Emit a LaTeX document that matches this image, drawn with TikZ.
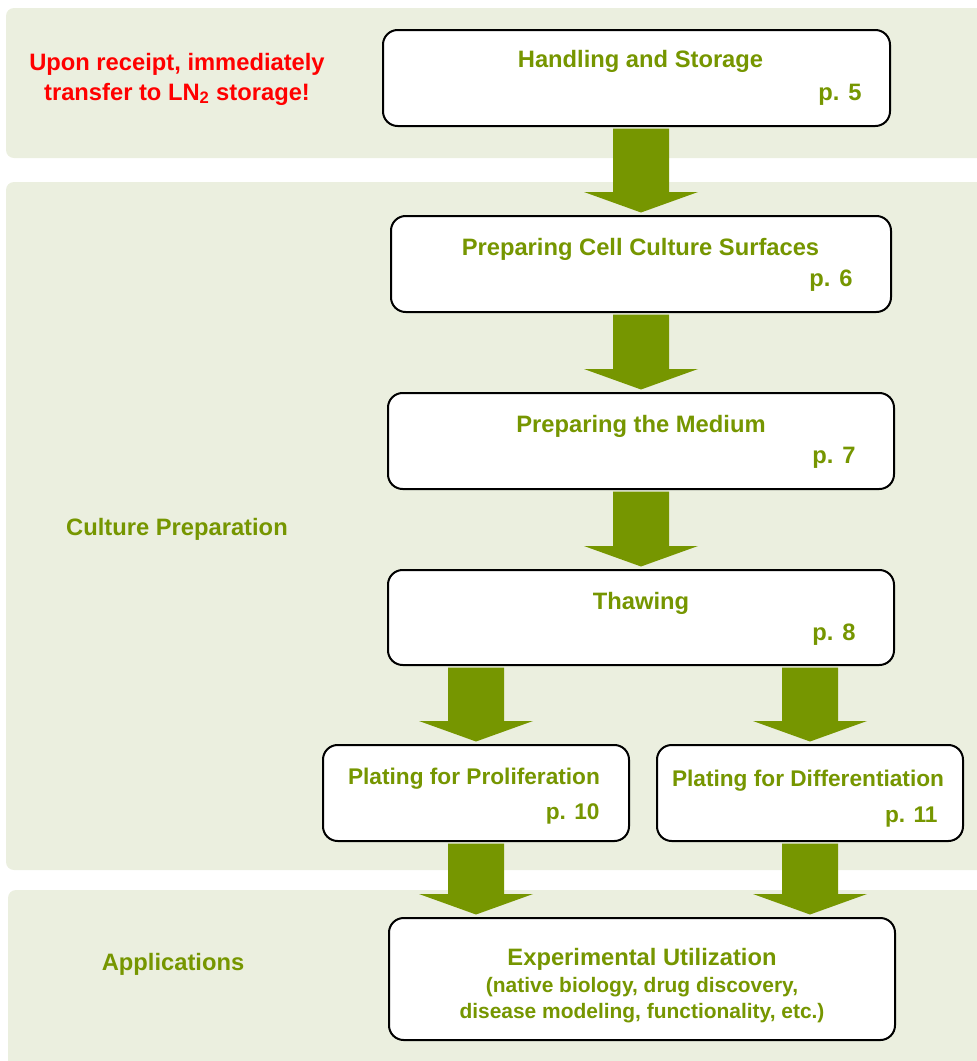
\documentclass[tikz,border=0pt]{standalone}
\usepackage{fontspec}
\setmainfont{Liberation Sans}
\usetikzlibrary{calc}

\definecolor{stepgreen}{RGB}{118,150,0}
\definecolor{bandgreen}{RGB}{235,239,223}
\definecolor{warnred}{RGB}{255,0,0}

\newcommand\stepfont{\fontsize{17.8}{22.5}\selectfont\bfseries}
\newcommand\platefont{\fontsize{17}{21}\selectfont\bfseries}
\newcommand\smallstepfont{\fontsize{15.7}{19.5}\selectfont\bfseries}

\tikzset{every picture/.style={line width=0.75pt}}
\tikzset{
  band/.style={fill=bandgreen, rounded corners=6pt},
  stepbox/.style={draw=black, line width=1.5pt, fill=white, rounded corners=11pt, inner sep=0pt},
  steptitle/.style={font=\stepfont, text=stepgreen, inner sep=0pt, anchor=base},
  steppage/.style={font=\stepfont, text=stepgreen, inner sep=0pt, anchor=base east},
  sidelabel/.style={font=\stepfont, text=stepgreen, inner sep=0pt, anchor=base},
  flow/.style={fill=stepgreen, to path={
      ($(\tikztostart)+(-28,1.5)$) -- ($(\tikztotarget)+(-28,-23)$) -- ++(-29,0)
      -- ($(\tikztotarget)+(0,-2.5)$) -- ($(\tikztotarget)+(57,-23)$) -- ++(-29,0)
      -- ($(\tikztostart)+(28,1.5)$) -- cycle}}
}

\begin{document}
\begin{tikzpicture}[x=0.75pt,y=0.75pt,yscale=-1,xscale=1]
\useasboundingbox (0,0) rectangle (977,1061);

%Shape: Bands
\begin{scope}
\clip (0,0) rectangle (977,1061);
\fill [band] (6,8) rectangle (990,158);
\fill [band] (6,182) rectangle (990,870);
\fill [band] (8,890) rectangle (990,1075);
\end{scope}

%Shape: Rounded Rect [steps]
\node [stepbox, minimum width=380.25pt, minimum height=72pt] (handling) at (636.5,78) {};
\node [stepbox, minimum width=375pt, minimum height=72pt] (surfaces) at (641,264) {};
\node [stepbox, minimum width=379.5pt, minimum height=72pt] (medium) at (641,441) {};
\node [stepbox, minimum width=379.5pt, minimum height=71.25pt] (thawing) at (641,617.5) {};
\node [stepbox, minimum width=229.5pt, minimum height=72pt] (prolif) at (476,793) {};
\node [stepbox, minimum width=229.5pt, minimum height=72pt] (diff) at (810,793) {};
\node [stepbox, minimum width=379.5pt, minimum height=91.5pt] (utilization) at (642,979) {};

%Block Arrows
\fill [flow] (handling.south -| surfaces.north) to (surfaces.north);
\fill [flow] (surfaces.south) to (medium.north);
\fill [flow] (medium.south) to (thawing.north);
\fill [flow] (thawing.south -| prolif.north) to (prolif.north);
\fill [flow] (thawing.south -| diff.north) to (diff.north);
\fill [flow] (prolif.south) to (prolif.south |- utilization.north);
\fill [flow] (diff.south) to (diff.south |- utilization.north);

% Text Node
\node [font=\stepfont, text=warnred, align=center, inner sep=0pt] (receipt) at (177,79)
  {Upon receipt, immediately\\transfer to LN\textsubscript{2} storage!};
% Text Node
\node [sidelabel] (culture) at (177,535) {Culture Preparation};
% Text Node
\node [sidelabel] (apps) at (173,970) {Applications};

% Text Node
\node [steptitle] (handling-t) at (640.5,67) {Handling and Storage};
\node [steppage] (handling-p) at (862,100) {p. 5};
% Text Node
\node [steptitle] (surfaces-t) at (640.5,255) {Preparing Cell Culture Surfaces};
\node [steppage] (surfaces-p) at (853,286) {p. 6};
% Text Node
\node [steptitle] (medium-t) at (641,432) {Preparing the Medium};
\node [steppage] (medium-p) at (856,463) {p. 7};
% Text Node
\node [steptitle] (thawing-t) at (641,609) {Thawing};
\node [steppage] (thawing-p) at (856,640) {p. 8};
% Text Node
\node [steptitle, font=\platefont] (prolif-t) at (474,784) {Plating for Proliferation};
\node [steppage, font=\platefont] (prolif-p) at (600,819) {p. 10};
% Text Node
\node [steptitle, font=\platefont] (diff-t) at (808,786) {Plating for Differentiation};
\node [steppage, font=\platefont] (diff-p) at (938,822) {p. 11};
% Text Node
\node [steptitle] (utilization-t) at (642,965) {Experimental Utilization};
\node [font=\smallstepfont, text=stepgreen, align=center, inner sep=0pt] (utilization-s) at (642,1000)
  {(native biology, drug discovery,\\disease modeling, functionality, etc.)};

\end{tikzpicture}
\end{document}
